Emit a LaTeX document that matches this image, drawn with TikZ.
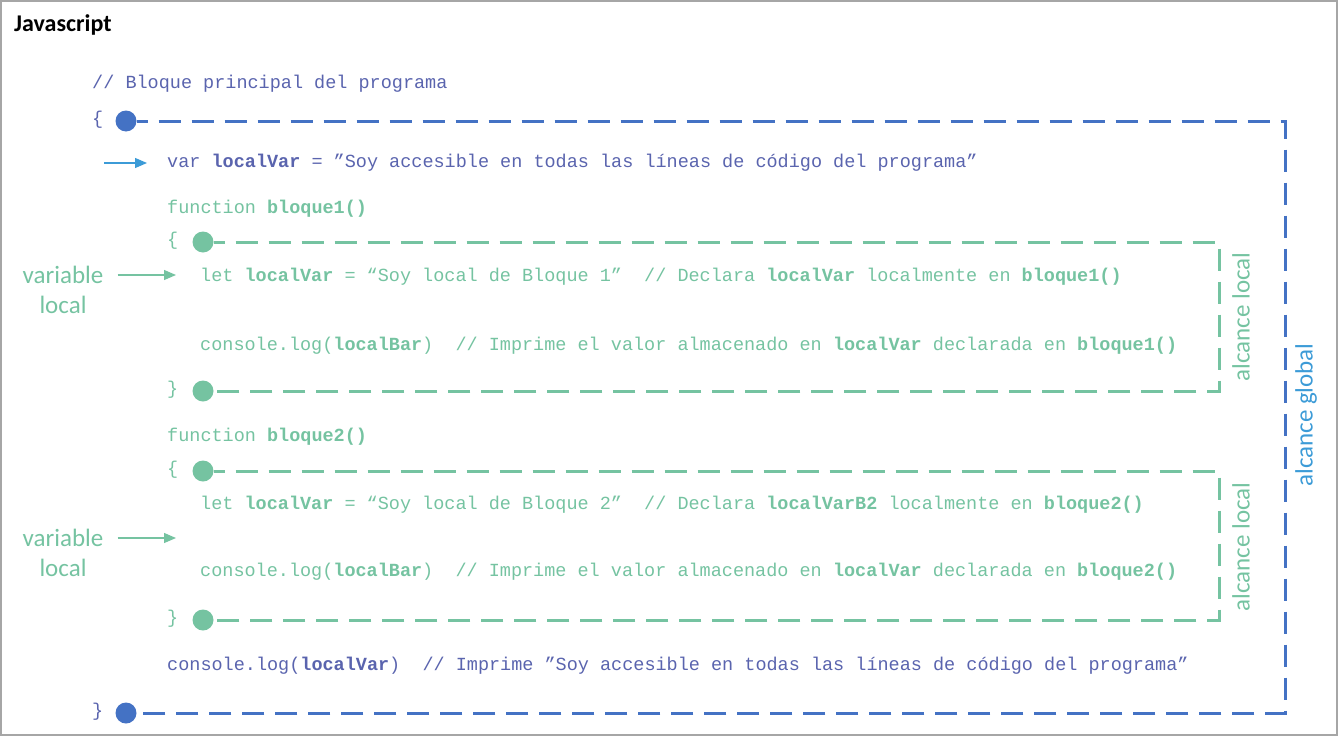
\documentclass[tikz,border=0pt]{standalone}
\usepackage{fontspec}
\setmainfont{Carlito}
\newfontfamily\codefont{Liberation Mono}
\usetikzlibrary{positioning,arrows.meta}
\definecolor{framegray}{HTML}{A6A6A6}
\definecolor{globalblue}{HTML}{4472C4}
\definecolor{codeblue}{HTML}{5A64AE}
\definecolor{scopeblue}{HTML}{3C9BD7}
\definecolor{localgreen}{HTML}{75C3A1}

\begin{document}
\begin{tikzpicture}
        [x=1pt, y=-1pt,
          codeline/.style={anchor=base west, inner sep=0pt, font=\codefont\fontsize{18.5}{22}\selectfont},
          scopedot/.style={circle, fill, inner sep=0pt, minimum size=21pt},
          scopeline/.style={line width=3pt, dash pattern=on 22pt off 11pt, dash phase=11pt},
          note/.style={inner sep=0pt, font=\fontsize{25}{30}\selectfont},
          pointer/.style={-{Triangle[length=12pt,width=10pt]}, line width=1.2pt}]
        \useasboundingbox (0,0) rectangle (1338,736);
        \draw[framegray, line width=2pt] (1,1) rectangle (1337,735);
        \node[anchor=base west, inner sep=0pt, font=\bfseries\fontsize{24}{28}\selectfont] (title) at (14,31) {Javascript};

        % bloque principal
        \node[codeline, codeblue] (gcomment) at (92,88) {// Bloque principal del programa};
        \node[codeline, codeblue] (gopen) at (92,124) {\{};
        \node[scopedot, globalblue] (gtop) at (126,121) {};
        \node[codeline, codeblue] (gvar) at (167,167) {var \textbf{localVar} = ”Soy accesible en todas las líneas de código del programa”};
        \node[codeline, codeblue] (glog) at (167,670) {console.log(\textbf{localVar})~ // Imprime ”Soy accesible en todas las líneas de código del programa”};
        \node[codeline, codeblue] (gclose) at (92,716) {\}};
        \node[scopedot, globalblue] (gbot) at (126,713) {};
        \coordinate (gcorner) at (1285,713);
        \draw[scopeline, globalblue] (gtop.east) -| (gcorner) -- (gbot.east);
        \node[note, scopeblue, rotate=90] (gscope) at (1306,415) {alcance global};
        \coordinate (gsrc) at (104,163);
        \draw[pointer, scopeblue, shorten >=20pt] (gsrc) -- (gsrc -| gvar.west);

        % bloque1
        \node[codeline, localgreen] (fn1) at (167,213) {function \textbf{bloque1()}};
        \node[codeline, localgreen] (open1) at (167,245) {\{};
        \node[scopedot, localgreen] (top1) at (203,242) {};
        \node[codeline, localgreen] (let1) at (200,281) {let \textbf{localVar} = “Soy local de Bloque 1”~ // Declara \textbf{localVar} localmente en \textbf{bloque1()}};
        \node[codeline, localgreen] (log1) at (200,350) {console.log(\textbf{localBar})~ // Imprime el valor almacenado en \textbf{localVar} declarada en \textbf{bloque1()}};
        \node[codeline, localgreen] (close1) at (167,394) {\}};
        \node[scopedot, localgreen] (bot1) at (203,391) {};
        \coordinate (corner1) at (1219,391);
        \draw[scopeline, localgreen] (top1.east) -| (corner1) -- (bot1.east);
        \node[note, localgreen, rotate=90] (scope1) at (1241,317) {alcance local};
        \node[note, localgreen] (lvar1) at (63,275) {variable};
        \node[note, localgreen, below=12pt of lvar1] (lvar1b) {local};
        \draw[pointer, localgreen, shorten <=14pt, shorten >=24pt] (lvar1) -- (lvar1 -| let1.west);

        % bloque2
        \node[codeline, localgreen] (fn2) at (167,441) {function \textbf{bloque2()}};
        \node[codeline, localgreen] (open2) at (167,474) {\{};
        \node[scopedot, localgreen] (top2) at (203,471) {};
        \node[codeline, localgreen] (let2) at (200,509) {let \textbf{localVar} = “Soy local de Bloque 2”~ // Declara \textbf{localVarB2} localmente en \textbf{bloque2()}};
        \node[codeline, localgreen] (log2) at (200,576) {console.log(\textbf{localBar})~ // Imprime el valor almacenado en \textbf{localVar} declarada en \textbf{bloque2()}};
        \node[codeline, localgreen] (close2) at (167,623) {\}};
        \node[scopedot, localgreen] (bot2) at (203,620) {};
        \coordinate (corner2) at (1219,620);
        \draw[scopeline, localgreen] (top2.east) -| (corner2) -- (bot2.east);
        \node[note, localgreen, rotate=90] (scope2) at (1241,547) {alcance local};
        \node[note, localgreen] (lvar2) at (63,538) {variable};
        \node[note, localgreen, below=12pt of lvar2] (lvar2b) {local};
        \draw[pointer, localgreen, shorten <=14pt, shorten >=24pt] (lvar2) -- (lvar2 -| let2.west);
\end{tikzpicture}
\end{document}
